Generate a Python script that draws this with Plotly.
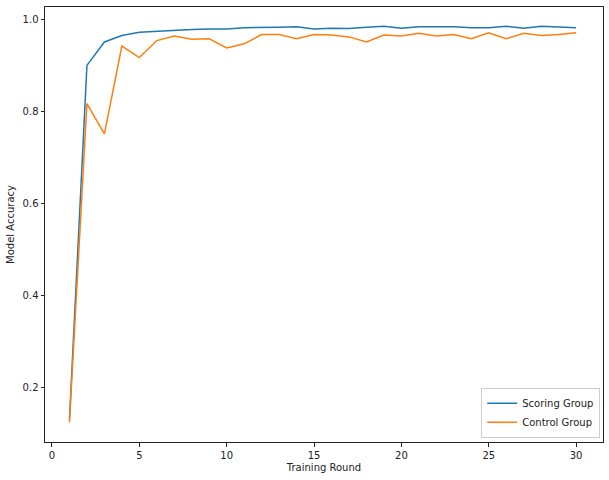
import plotly.graph_objects as go

rounds = list(range(1, 31))
scoring_group = [0.13, 0.900, 0.951, 0.965, 0.972, 0.974, 0.977, 0.978, 0.979, 0.979,
                 0.982, 0.982, 0.983, 0.984, 0.979, 0.981, 0.980, 0.983, 0.985, 0.981,
                 0.984, 0.984, 0.984, 0.982, 0.982, 0.985, 0.981, 0.985, 0.984, 0.982]
control_group = [0.124, 0.817, 0.751, 0.942, 0.917, 0.954, 0.964, 0.957, 0.958, 0.938,
                 0.947, 0.967, 0.967, 0.958, 0.967, 0.966, 0.962, 0.951, 0.966, 0.964,
                 0.970, 0.964, 0.967, 0.958, 0.971, 0.958, 0.970, 0.965, 0.967, 0.971]
y_ticks = [0.2, 0.4, 0.6, 0.8, 1.0]
y_tick_labels = ["0.2", "0.4", "0.6", "0.8", "1.0"]
x_ticks = [0, 5, 10, 15, 20, 25, 30]

fig = go.Figure()
fig.add_trace(go.Scatter(x=rounds, y=scoring_group, mode="lines", name="Scoring Group",
                         line=dict(color="#1f77b4", width=1.5)))
fig.add_trace(go.Scatter(x=rounds, y=control_group, mode="lines", name="Control Group",
                         line=dict(color="#ff7f0e", width=1.5)))

axis_common = dict(showline=True, linecolor="#222222", linewidth=1, mirror=True,
                   ticks="outside", ticklen=3.5, tickcolor="#222222", showgrid=False,
                   zeroline=False, tickfont=dict(size=10, color="#222222"))

fig.update_layout(
    width=609, height=480,
    margin=dict(l=45, r=6, t=7, b=38),
    paper_bgcolor="white", plot_bgcolor="white",
    font=dict(family="DejaVu Sans", size=10, color="#222222"),
    xaxis=dict(range=[-0.4, 31.54], tickvals=x_ticks,
               title=dict(text="Training Round", font=dict(size=10), standoff=4),
               **axis_common),
    yaxis=dict(range=[0.081, 1.027], tickvals=y_ticks, ticktext=y_tick_labels,
               title=dict(text="Model Accuracy", font=dict(size=10), standoff=6),
               **axis_common),
    legend=dict(x=0.995, y=0.01, xanchor="right", yanchor="bottom",
                bordercolor="#cccccc", borderwidth=1, bgcolor="rgba(255,255,255,0.8)",
                font=dict(size=10), tracegroupgap=0, itemwidth=30),
    showlegend=True,
)

fig.write_html("out.html", config={"displayModeBar": False},
               post_script="document.body.style.margin='0';")
